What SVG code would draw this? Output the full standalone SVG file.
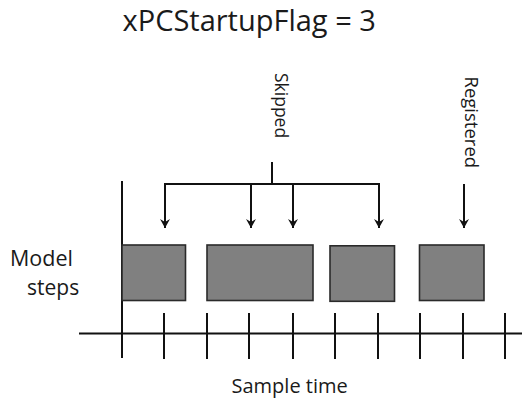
<svg xmlns="http://www.w3.org/2000/svg" width="522" height="400" viewBox="0 0 522 400">
<style>
text{font-family:"Open Sans","Noto Sans","DejaVu Sans",sans-serif;fill:#1a1a1a}
.ln{stroke:#111;stroke-width:2;fill:none}
.box{fill:#808080;stroke:#2a2a2a;stroke-width:1.6}
</style>
<defs>
<marker id="ah" viewBox="0 0 9 10" refX="9" refY="5" markerWidth="9" markerHeight="10" markerUnits="userSpaceOnUse" orient="auto">
<path d="M0,0 L9,5 L0,10 L3,5 Z" fill="#111"/>
</marker>
</defs>
<rect width="522" height="400" fill="#fff"/>
<text id="title" x="122.5" y="31" font-size="29">xPCStartupFlag = 3</text>
<g id="axes" class="ln">
<line x1="122" y1="181" x2="122" y2="358"/>
<line x1="79" y1="333.5" x2="522" y2="333.5"/>
<path d="M164,313V359M207,313V359M249,313V359M293,313V359M335,313V359M378,313V359M420,313V359M463,313V359M505,313V359"/>
</g>
<g id="label-model-steps">
<text x="10" y="266" font-size="21.5">Model</text>
<text x="27" y="295" font-size="21">steps</text>
</g>
<text id="label-sample-time" x="231.5" y="393" font-size="20">Sample time</text>
<g id="step1"><rect class="box" x="122" y="245" width="63.5" height="55.5"/></g>
<g id="step2"><rect class="box" x="207" y="245" width="106" height="55.5"/></g>
<g id="step3"><rect class="box" x="330" y="245.8" width="64.5" height="55.5"/></g>
<g id="step4"><rect class="box" x="419.5" y="245" width="64.5" height="55.5"/></g>
<g id="skipped">
<text transform="translate(275,73) rotate(90)" font-size="17.5">Skipped</text>
</g>
<g id="registered">
<text transform="translate(465,76.5) rotate(90)" font-size="18.5">Registered</text>
</g>
<g id="connectors" class="ln">
<path d="M272,162V184M165,184H379"/>
<line x1="165" y1="183" x2="165" y2="228" marker-end="url(#ah)"/>
<line x1="251" y1="184" x2="251" y2="228" marker-end="url(#ah)"/>
<line x1="293" y1="184" x2="293" y2="228" marker-end="url(#ah)"/>
<line x1="379" y1="183" x2="379" y2="228" marker-end="url(#ah)"/>
<line x1="464" y1="184" x2="464" y2="228" marker-end="url(#ah)"/>
</g>
</svg>
